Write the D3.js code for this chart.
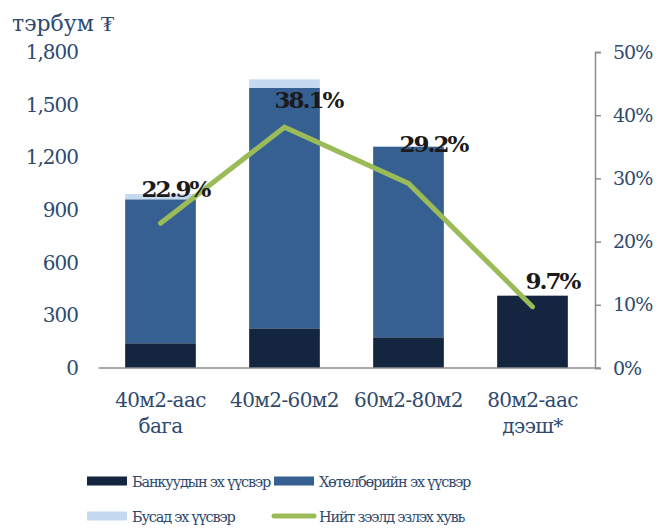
<!DOCTYPE html>
<html>
<head>
<meta charset="utf-8">
<script src="https://cdn.jsdelivr.net/npm/d3@7"></script>
<style>
  body { margin: 0; background: #fff; }
</style>
</head>
<body>
<svg id="chart" width="667" height="528"></svg>
<script>
// categories and values
var categories = [["40м2-аас", "бага"], ["40м2-60м2"], ["60м2-80м2"], ["80м2-аас", "дээш*"]];
var bankValues = [141, 226, 175, 412];
var programValues = [820, 1369, 1086, 0];
var otherValues = [30, 49, 3, 0];
var shareValues = [0.229, 0.381, 0.292, 0.097];
var leftTicks = [0, 300, 600, 900, 1200, 1500, 1800];
var rightTicks = [0, 0.1, 0.2, 0.3, 0.4, 0.5];
var seriesNames = ["Банкуудын эх үүсвэр", "Хөтөлбөрийн эх үүсвэр", "Бусад эх үүсвэр", "Нийт зээлд эзлэх хувь"];

// label nudges (px) relative to the line points
var labelOffsets = [[15, -26], [24, -19], [25, -31], [20, -18]];

var colors = ["#14253f", "#376092", "#c5d9f1", "#9bbb59"];
var textColor = "#2e4a6e";
var serif = "DejaVu Serif";

var svg = d3.select("#chart").attr("font-family", serif);
var x0 = 98.5, x1 = 594.5, yBottom = 368, yTop = 52;

var x = d3.scaleBand()
  .domain(d3.range(categories.length))
  .range([x0, x1])
  .paddingInner(0.43)
  .paddingOuter(0.215);

var y = d3.scaleLinear().domain([0, 1800]).range([yBottom, yTop]);
var y2 = d3.scaleLinear().domain([0, 0.5]).range([yBottom, yTop]);

// stacked data
var rows = categories.map(function(c, i) {
  return { i: i, bank: bankValues[i], program: programValues[i], other: otherValues[i] };
});
var stack = d3.stack().keys(["bank", "program", "other"])(rows);

svg.append("g")
  .selectAll("g")
  .data(stack)
  .join("g")
  .attr("fill", function(d, k) { return colors[k]; })
  .selectAll("rect")
  .data(function(d) { return d; })
  .join("rect")
  .attr("x", function(d) { return x(d.data.i); })
  .attr("y", function(d) { return y(d[1]); })
  .attr("width", x.bandwidth())
  .attr("height", function(d) { return y(d[0]) - y(d[1]); });

// x baseline
svg.append("line")
  .attr("x1", x0).attr("x2", x1 + 6)
  .attr("y1", yBottom).attr("y2", yBottom)
  .attr("stroke", "#8c8c8c").attr("stroke-width", 1.5);

// left axis (labels only)
var leftAxis = svg.append("g")
  .attr("transform", "translate(78,0)")
  .call(d3.axisLeft(y).tickValues(leftTicks).tickSize(0).tickPadding(0).tickFormat(d3.format(",")));
leftAxis.attr("font-family", serif).attr("font-size", 20);
leftAxis.select(".domain").remove();
leftAxis.selectAll("text").attr("fill", textColor).attr("letter-spacing", -1);

// right axis
var rightAxis = svg.append("g")
  .attr("transform", "translate(" + (x1 + 0.5) + ",0)")
  .call(d3.axisRight(y2).tickValues(rightTicks).tickSize(6).tickSizeOuter(6).tickPadding(12).tickFormat(d3.format(".0%")));
rightAxis.attr("font-family", serif).attr("font-size", 19);
rightAxis.select(".domain").attr("stroke", "#8c8c8c").attr("stroke-width", 1.5);
rightAxis.selectAll(".tick line").attr("stroke", "#8c8c8c").attr("stroke-width", 1.5);
rightAxis.selectAll("text").attr("fill", textColor).attr("letter-spacing", -1);

// unit title
svg.append("text")
  .attr("x", 12).attr("y", 31)
  .attr("fill", textColor)
  .attr("font-size", 22)
  .text("тэрбум ₮");

// category labels
var catG = svg.append("g")
  .selectAll("text")
  .data(categories)
  .join("text")
  .attr("text-anchor", "middle")
  .attr("fill", textColor)
  .attr("font-size", 20).attr("letter-spacing", -0.6)
  .attr("x", function(d, i) { return x(i) + x.bandwidth() / 2; })
  .attr("y", 407);
catG.selectAll("tspan")
  .data(function(d) { return d; })
  .join("tspan")
  .attr("x", function() { return d3.select(this.parentNode).attr("x"); })
  .attr("dy", function(d, j) { return j === 0 ? 0 : 26; })
  .text(function(d) { return d; });

// share line
var cx = function(d, i) { return x(i) + x.bandwidth() / 2; };
svg.append("path")
  .datum(shareValues)
  .attr("fill", "none")
  .attr("stroke", colors[3])
  .attr("stroke-width", 5)
  .attr("stroke-linecap", "round")
  .attr("d", d3.line().x(cx).y(function(d) { return y2(d); }));

// share labels
svg.append("g")
  .selectAll("text")
  .data(shareValues)
  .join("text")
  .attr("text-anchor", "middle")
  .attr("x", function(d, i) { return cx(d, i) + labelOffsets[i][0]; })
  .attr("y", function(d, i) { return y2(d) + labelOffsets[i][1]; })
  .attr("fill", "#1a1a1a")
  .attr("font-size", 23).attr("font-weight", "bold").attr("letter-spacing", -2)
  .text(function(d) { return d3.format(".1%")(d); });

// legend
var legend = [
  { name: seriesNames[0], color: colors[0], lx: 87, ly: 481, type: "rect" },
  { name: seriesNames[1], color: colors[1], lx: 274, ly: 481, type: "rect" },
  { name: seriesNames[2], color: colors[2], lx: 87, ly: 516, type: "rect" },
  { name: seriesNames[3], color: colors[3], lx: 274, ly: 516, type: "line" }
];
var lg = svg.append("g").selectAll("g").data(legend).join("g")
  .attr("transform", function(d) { return "translate(" + d.lx + "," + d.ly + ")"; });
lg.filter(function(d) { return d.type === "rect"; })
  .append("rect")
  .attr("x", 0).attr("y", -4.5).attr("width", 40).attr("height", 9)
  .attr("fill", function(d) { return d.color; });
lg.filter(function(d) { return d.type === "line"; })
  .append("line")
  .attr("x1", 0).attr("x2", 40).attr("y1", 0).attr("y2", 0)
  .attr("stroke", function(d) { return d.color; })
  .attr("stroke-width", 5).attr("stroke-linecap", "round");
lg.append("text")
  .attr("x", 45).attr("y", 5.5)
  .attr("fill", textColor)
  .attr("font-size", 14.5).attr("letter-spacing", -1.2)
  .text(function(d) { return d.name; });
</script>
</body>
</html>
